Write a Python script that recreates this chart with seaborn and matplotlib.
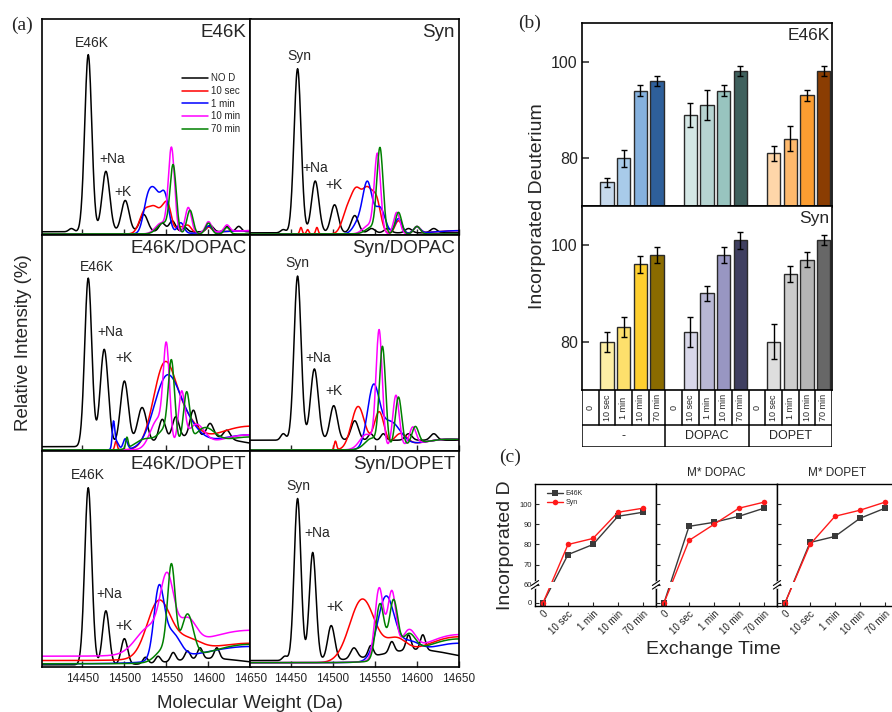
import numpy as np
import pandas as pd
import matplotlib
matplotlib.use("Agg")
import matplotlib.pyplot as plt
import seaborn as sns

sns.set_theme(style="white")
plt.rcParams["font.family"] = ["Liberation Sans", "DejaVu Sans"]
plt.rcParams["axes.edgecolor"] = "black"
plt.rcParams["axes.linewidth"] = 1.1

# ---------------------------------------------------------------- data (a)
MW_GRID = np.arange(14400.0, 14650.5, 0.5)
SERIES = ["NO D", "10 sec", "1 min", "10 min", "70 min"]
SERIES_COLORS = ["#000000", "#ff0000", "#0000ff", "#ff00ff", "#008000"]

# each spectrum: (baseline %, [(centre Da, height %, width Da), ...])
E46K_SPEC = {
    "NO D": (1.5, [(14437, 1.5, 3), (14457, 82, 4.2), (14478, 28, 4.6), (14501, 14.5, 4.6),
                   (14523, 8, 4.8), (14545, 4, 3.8), (14557, 5, 3.8), (14572, 2, 3),
                   (14602, 3, 3.8), (14622, 2.5, 3.2), (14636, 2.5, 3.2)]),
    "10 sec": (0.5, [(14524, 10, 6), (14536, 11, 6), (14548, 11, 5), (14553, 6, 3.5),
                     (14566, 3, 6), (14576, 3, 3.8), (14600, 2.5, 3.8), (14650, 1.5, 40)]),
    "1 min": (0.5, [(14527, 12, 5), (14536, 18, 6), (14548, 17, 5), (14567, 5, 3.8),
                    (14600, 3, 3.8), (14650, 1.5, 40)]),
    "10 min": (0.5, [(14556, 39, 3.7), (14544, 5, 7), (14576, 12, 3.7), (14600, 5, 3.6),
                     (14622, 3, 3.2), (14650, 1.5, 40)]),
    "70 min": (0.5, [(14558, 31, 3.7), (14546, 5, 7), (14578, 11, 3.7), (14600, 5, 3.6),
                     (14622, 3, 3.2)]),
}
SYN_SPEC = {
    "NO D": (1.0, [(14441, 1.5, 3), (14458, 76, 4.2), (14479, 24, 4.4), (14502, 13, 4.4),
                   (14526, 8, 4.4), (14546, 2, 4), (14565, 2, 4), (14590, 2, 4), (14620, 2, 4)]),
    "10 sec": (0.5, [(14462, 3, 1.4), (14470, 2, 1.4), (14481, 3, 1.4), (14517, 10, 6),
                     (14528, 18, 6), (14541, 19, 6), (14552, 14, 5), (14578, 6, 4.2),
                     (14600, 3, 4), (14650, 1.5, 30)]),
    "1 min": (0.5, [(14541, 23, 5.5), (14530, 5, 6), (14556, 12, 6), (14578, 7, 4.2),
                    (14600, 3, 4), (14650, 1.5, 30)]),
    "10 min": (0.5, [(14553, 36, 3.7), (14543, 4, 7), (14576, 10, 3.7), (14600, 3.5, 3.8)]),
    "70 min": (0.5, [(14556, 39, 3.7), (14546, 3, 7), (14578, 10, 3.7), (14600, 3.5, 3.8)]),
}
E46K_DOPAC_SPEC = {
    "NO D": (2.0, [(14457, 78, 4.2), (14476, 45, 4.8), (14500, 30, 4.8), (14521, 17, 5.5),
                   (14545, 10, 4), (14561, 10, 4), (14582, 12, 4), (14602, 6, 4),
                   (14622, 4, 4), (14590, 5, 40)]),
    "10 sec": (0.5, [(14490, 4, 1.4), (14547, 36, 13), (14570, 12, 15), (14650, 11, 45)]),
    "1 min": (0.5, [(14487, 11, 1.4), (14490, 4, 3), (14501, 5, 2.5), (14550, 32, 15),
                    (14575, 8, 15), (14650, 7, 45)]),
    "10 min": (0.5, [(14550, 42, 3.7), (14540, 14, 9), (14568, 24, 3.8), (14585, 10, 10),
                     (14650, 7, 40)]),
    "70 min": (0.5, [(14503, 5, 1.4), (14525, 5, 12), (14556, 34, 3.7), (14574, 24, 3.8),
                     (14550, 9, 9), (14595, 8, 12), (14650, 6, 40)]),
}
SYN_DOPAC_SPEC = {
    "NO D": (5.0, [(14441, 3, 3), (14458, 76, 4.2), (14478, 33, 4.6), (14501, 16, 4.4),
                   (14526, 9, 4.4), (14545, 3, 3), (14560, 3, 3), (14590, 3, 4), (14620, 3, 4)]),
    "10 sec": (0.5, [(14503, 4, 1.4), (14530, 20, 8), (14555, 17, 6), (14580, 6, 8),
                     (14640, 5, 40)]),
    "1 min": (0.5, [(14548, 27, 7), (14568, 12, 12), (14640, 5, 40)]),
    "10 min": (0.5, [(14555, 54, 3.7), (14575, 24, 3.8), (14595, 8, 4), (14540, 7, 8),
                     (14640, 5, 40)]),
    "70 min": (0.5, [(14559, 46, 3.7), (14578, 23, 3.8), (14598, 8, 4), (14546, 5, 8),
                     (14640, 5, 40)]),
}
E46K_DOPET_SPEC = {
    "NO D": (1.0, [(14457, 82, 4.2), (14478, 25, 4.0), (14500, 12, 3.8), (14525, 3, 3),
                   (14540, 3, 3), (14558, 4, 3), (14575, 4, 3), (14590, 5, 3),
                   (14610, 5, 3), (14600, 3, 40)]),
    "10 sec": (3.0, [(14541, 26, 14), (14575, 6, 15), (14650, 8, 60)]),
    "1 min": (1.5, [(14541, 31, 6), (14556, 12, 10), (14650, 8, 60)]),
    "10 min": (5.0, [(14551, 30, 8), (14530, 12, 16), (14575, 12, 10), (14650, 12, 60)]),
    "70 min": (1.5, [(14556, 40, 4.5), (14575, 20, 7), (14548, 6, 10), (14650, 9, 50)]),
}
SYN_DOPET_SPEC = {
    "NO D": (3.0, [(14443, 2, 3), (14458, 75, 4.0), (14476, 50, 4.0), (14498, 16, 4.2),
                   (14525, 5, 4), (14545, 5, 3), (14570, 5, 3), (14590, 7, 3),
                   (14607, 7, 3), (14600, 5, 40)]),
    "10 sec": (2.0, [(14535, 29, 15), (14575, 8, 12), (14650, 12, 45)]),
    "1 min": (2.0, [(14563, 29, 10), (14590, 6, 12), (14650, 9, 45)]),
    "10 min": (2.0, [(14555, 33, 5), (14570, 30, 5), (14590, 10, 8), (14650, 13, 45)]),
    "70 min": (2.0, [(14556, 26, 5), (14572, 26, 5), (14590, 9, 8), (14650, 11, 45)]),
}
SPEC_GRID = [[E46K_SPEC, SYN_SPEC],
             [E46K_DOPAC_SPEC, SYN_DOPAC_SPEC],
             [E46K_DOPET_SPEC, SYN_DOPET_SPEC]]
SPEC_TITLES = [["E46K", "Syn"], ["E46K/DOPAC", "Syn/DOPAC"], ["E46K/DOPET", "Syn/DOPET"]]
PEAK_LABELS = [
    [[("E46K", 14461, 89), ("+Na", 14485, 35), ("+K", 14498, 20)],
     [("Syn", 14460, 83), ("+Na", 14479, 31), ("+K", 14501, 23)]],
    [[("E46K", 14467, 85), ("+Na", 14483, 55), ("+K", 14500, 43)],
     [("Syn", 14458, 87), ("+Na", 14482, 43), ("+K", 14501, 28)]],
    [[("E46K", 14457, 89), ("+Na", 14482, 34), ("+K", 14500, 19)],
     [("Syn", 14459, 84), ("+Na", 14481, 62), ("+K", 14502, 28)]],
]
MW_TICKS = [14450, 14500, 14550, 14600, 14650]

# ---------------------------------------------------------------- data (b)/(c)
TIMES = ["0", "10 sec", "1 min", "10 min", "70 min"]
TREATMENTS = ["-", "DOPAC", "DOPET"]
E46K_D = [[75, 80, 94, 96], [89, 91, 94, 98], [81, 84, 93, 98]]
E46K_ERR = [[1.0, 1.8, 1.1, 1.1], [2.5, 3.1, 1.1, 1.0], [1.6, 2.6, 1.2, 1.0]]
SYN_D = [[80, 83, 96, 98], [82, 90, 98, 101], [80, 94, 97, 101]]
SYN_ERR = [[2.1, 2.1, 1.7, 1.6], [3.1, 1.5, 1.6, 1.7], [3.6, 1.6, 1.5, 1.0]]
E46K_COLORS = [["#c6d9ec", "#a8cbe9", "#85b1de", "#2e5f9a"],
               ["#d4e7e5", "#b6d4d1", "#98c4bf", "#3f605d"],
               ["#fed6a9", "#feb96c", "#fb9d31", "#8a3d02"]]
SYN_COLORS = [["#fdeea5", "#fde06c", "#fecf2f", "#8a6b00"],
              ["#d8d7e9", "#b8b7d4", "#9896c2", "#3f3f60"],
              ["#dedede", "#cccccc", "#b5b5b5", "#676767"]]
C_TIME0 = 0
C_TITLES = ["", "M* DOPAC", "M* DOPET"]
C_YTICKS = [0, 60, 70, 80, 90, 100]
LINE_COLORS = {"E46K": "#3a3a3a", "Syn": "#ff1a1a"}

W, H = 892, 712
fig = plt.figure(figsize=(W / 100, H / 100), dpi=100)


def spectrum(base, peaks):
    y = np.full_like(MW_GRID, base)
    for c, h, s in peaks:
        y = y + h * np.exp(-0.5 * ((MW_GRID - c) / s) ** 2)
    return y


# ---------------------------------------------------------------- panel (a)
gs_a = fig.add_gridspec(3, 2, left=42 / W, right=459 / W, top=1 - 19 / H,
                        bottom=1 - 667 / H, wspace=0, hspace=0)
for r in range(3):
    for c in range(2):
        ax = fig.add_subplot(gs_a[r, c])
        spec = SPEC_GRID[r][c]
        frames = []
        for name in SERIES:
            base, peaks = spec[name]
            frames.append(pd.DataFrame({"mw": MW_GRID, "intensity": spectrum(base, peaks),
                                        "series": name}))
        df = pd.concat(frames, ignore_index=True)
        sns.lineplot(data=df, x="mw", y="intensity", hue="series", hue_order=SERIES,
                     palette=SERIES_COLORS, estimator=None, sort=False, lw=1.1,
                     legend=(r == 0 and c == 0), ax=ax)
        ax.set_xlim(14402, 14650)
        ax.set_ylim(0, 100)
        ax.set_xticks(MW_TICKS)
        ax.set_yticks([])
        ax.set_xlabel("")
        ax.set_ylabel("")
        ax.tick_params(axis="x", direction="in", length=4, width=1, bottom=True,
                       labelbottom=(r == 2), labelsize=8.5, pad=4)
        for sp in ax.spines.values():
            sp.set_linewidth(1.2)
        ax.text(0.98, 0.975, SPEC_TITLES[r][c], transform=ax.transAxes, ha="right",
                va="top", fontsize=13.5)
        for txt, x, y in PEAK_LABELS[r][c]:
            ax.text(x, y, txt, ha="center", va="center", fontsize=10)
        if r == 0 and c == 0:
            ax.legend(loc="upper left", bbox_to_anchor=(0.64, 0.78), frameon=False,
                      fontsize=7, handlelength=2.6, labelspacing=0.28, borderpad=0.2,
                      handletextpad=0.4)

fig.text(24 / W, 1 - 343 / H, "Relative Intensity (%)", rotation=90, ha="center",
         va="center", fontsize=13.5)
fig.text(250 / W, 1 - 703 / H, "Molecular Weight (Da)", ha="center", va="center",
         fontsize=13.5)

# ---------------------------------------------------------------- panel (b)
slots = [f"{tr}|{tm}" for tr in TREATMENTS for tm in TIMES]
gs_b = fig.add_gridspec(2, 1, left=582 / W, right=832 / W, top=1 - 23 / H,
                        bottom=1 - 390 / H, hspace=0)
for k, (vals, errs, cols, name) in enumerate([(E46K_D, E46K_ERR, E46K_COLORS, "E46K"),
                                              (SYN_D, SYN_ERR, SYN_COLORS, "Syn")]):
    ax = fig.add_subplot(gs_b[k, 0])
    rows = []
    pal = {}
    for gi, tr in enumerate(TREATMENTS):
        for ti, tm in enumerate(TIMES[1:]):
            key = f"{tr}|{tm}"
            rows.append({"slot": key, "D": vals[gi][ti], "err": errs[gi][ti]})
            pal[key] = cols[gi][ti]
    dfb = pd.DataFrame(rows)
    sns.barplot(data=dfb, x="slot", y="D", hue="slot", order=slots, palette=pal,
                dodge=False, legend=False, errorbar=None, width=0.8, saturation=1,
                edgecolor="#2a2a2a", linewidth=1.0, ax=ax)
    xpos = [slots.index(s) for s in dfb["slot"]]
    ax.errorbar(xpos, dfb["D"], yerr=dfb["err"], fmt="none", ecolor="black",
                elinewidth=1.0, capsize=2, capthick=1.0, zorder=5)
    ax.set_xlim(-0.5, len(slots) - 0.5)
    ax.set_ylim(70, 108)
    ax.set_yticks([80, 100])
    ax.set_xticks([])
    ax.set_xlabel("")
    ax.set_ylabel("")
    ax.tick_params(axis="y", direction="in", length=5, width=1.1, left=True,
                   labelsize=11.5, pad=3)
    for sp in ax.spines.values():
        sp.set_linewidth(1.2)
    ax.text(0.99, 0.975, name, transform=ax.transAxes, ha="right", va="top",
            fontsize=12.5)

fig.text(537 / W, 1 - 206 / H, "Incorporated Deuterium", rotation=90, ha="center",
         va="center", fontsize=14)

# table below bars
axt = fig.add_axes([582 / W, 1 - 447 / H, 250 / W, 57 / H])
axt.set_xlim(-0.5, len(slots) - 0.5)
axt.set_ylim(0, 57)
axt.axis("off")
lw_t = 1.1
axt.plot([-0.5, 14.5], [22, 22], color="black", lw=lw_t)
axt.plot([-0.5, 14.5], [0.3, 0.3], color="black", lw=lw_t)
for i in range(len(slots) + 1):
    axt.plot([i - 0.5, i - 0.5], [22, 57], color="black", lw=lw_t)
for g in range(len(TREATMENTS) + 1):
    axt.plot([g * 5 - 0.5, g * 5 - 0.5], [0.3, 22], color="black", lw=lw_t)
for i, s in enumerate(slots):
    axt.text(i, 39.5, s.split("|")[1], rotation=90, ha="center", va="center", fontsize=6.5)
for g, tr in enumerate(TREATMENTS):
    axt.text(g * 5 + 2, 11, tr, ha="center", va="center", fontsize=9)


# ---------------------------------------------------------------- panel (c)
def fwd(y):
    y = np.asarray(y, dtype=float)
    return np.where(y >= 60, y, 51 + y * 0.15)


def inv(t):
    t = np.asarray(t, dtype=float)
    return np.where(t >= 60, t, (t - 51) / 0.15)


c_left, c_w = 535 / W, 121 / W
c_bottom, c_h = 1 - 606 / H, 122 / H
t_lo, t_hi = float(fwd(-10)), float(fwd(110))
frac60 = (60 - t_lo) / (t_hi - t_lo)
for gi, tr in enumerate(TREATMENTS):
    ax = fig.add_axes([c_left + gi * c_w, c_bottom, c_w, c_h])
    ax.set_yscale("function", functions=(fwd, inv))
    rows = []
    for name, vals in [("E46K", E46K_D), ("Syn", SYN_D)]:
        series = [C_TIME0] + list(vals[gi])
        for ti, v in enumerate(series):
            rows.append({"t": ti, "D": v, "protein": name})
    dfc = pd.DataFrame(rows)
    sns.lineplot(data=dfc, x="t", y="D", hue="protein", style="protein",
                 palette=LINE_COLORS, markers={"E46K": "s", "Syn": "o"}, dashes=False,
                 markersize=4, markeredgewidth=0, lw=1.0, legend=(gi == 0), ax=ax)
    ax.set_ylim(-10, 110)
    ax.set_xlim(-0.32, 4.52)
    ax.set_yticks(C_YTICKS)
    ax.set_xticks(range(len(TIMES)))
    ax.set_xticklabels(TIMES, rotation=45, ha="right", rotation_mode="anchor")
    ax.set_xlabel("")
    ax.set_ylabel("")
    ax.set_axisbelow(False)
    ax.axhspan(50, 61.5, color="white", zorder=2.2, lw=0)
    ax.tick_params(axis="y", direction="in", length=3, width=0.8, left=True,
                   labelleft=(gi == 0), labelsize=5.5, pad=2)
    ax.tick_params(axis="x", direction="in", length=3, width=0.8, bottom=True,
                   labelsize=7, pad=2)
    for sp in ax.spines.values():
        sp.set_linewidth(1.0)
    # axis-break marks
    ax.plot([0, 0], [frac60 - 0.02, frac60 + 0.02], transform=ax.transAxes,
            color="white", lw=2, clip_on=False, zorder=6)
    for dy in (-0.015, 0.015):
        ax.plot([-0.03, 0.03], [frac60 + dy - 0.02, frac60 + dy + 0.02],
                transform=ax.transAxes, color="black", lw=0.8, clip_on=False, zorder=7)
    if C_TITLES[gi]:
        ax.text(0.5, 1.04, C_TITLES[gi], transform=ax.transAxes, ha="center",
                va="bottom", fontsize=8.5)
    if gi == 0:
        ax.legend(loc="upper left", frameon=False, fontsize=5, handlelength=2.2,
                  labelspacing=0.3, borderpad=0.4, handletextpad=0.4,
                  bbox_to_anchor=(0.05, 1.0))

fig.text(505 / W, 1 - 545 / H, "Incorporated D", rotation=90, ha="center",
         va="center", fontsize=14)
fig.text(713 / W, 1 - 649 / H, "Exchange Time", ha="center", va="center", fontsize=14)

# panel letters
for txt, x, y in [("(a)", 22, 25), ("(b)", 530, 23), ("(c)", 510, 457)]:
    fig.text(x / W, 1 - y / H, txt, ha="center", va="center", fontsize=14,
             family="Liberation Serif")

fig.savefig("out.png", dpi=100)
